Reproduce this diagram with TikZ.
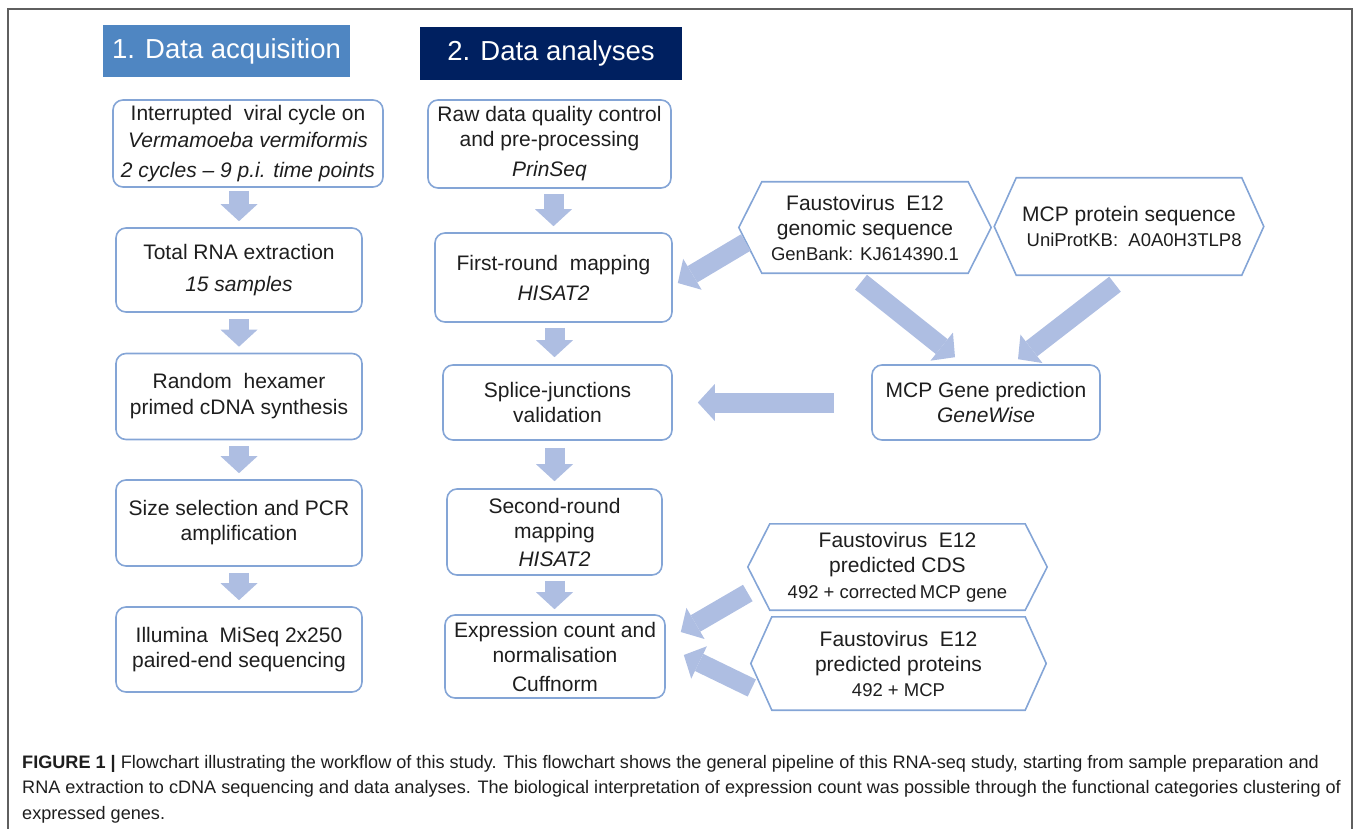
\documentclass[tikz,border=0pt]{standalone}
\usepackage{fontspec}
\setmainfont{Liberation Sans}
\usepackage{tikz}
\usetikzlibrary{arrows.meta, positioning}

\definecolor{boxline}{RGB}{132,165,214}
\definecolor{flowfill}{RGB}{174,190,226}
\definecolor{headone}{RGB}{79,134,194}
\definecolor{headtwo}{RGB}{0,32,96}
\definecolor{bodytext}{RGB}{30,30,30}
\definecolor{framegray}{RGB}{95,95,95}

\newcommand{\setfs}[2]{\fontsize{#1}{#2}\selectfont}
\newcommand{\hexframe}[2]{\draw[hexline] (#1.north west) -- (#1.north east) -- ([xshift=#2]#1.east) -- (#1.south east) -- (#1.south west) -- ([xshift=-#2]#1.west) -- cycle;}

\begin{document}
\begin{tikzpicture}[x=1pt,y=-1pt,node distance=126.5pt,on grid]
  \tikzstyle{stepbox}=[draw=boxline, line width=1.6pt, rounded corners=10pt, align=center, text=bodytext, inner sep=0pt, font=\setfs{21}{25}]
  \tikzstyle{hexa}=[align=center, text=bodytext, inner sep=0pt, font=\setfs{21}{25}]
  \tikzstyle{hexline}=[draw=boxline, line width=1.6pt, line join=miter]
  \tikzstyle{header}=[text=white, inner sep=0pt, font=\setfs{27.5}{32}]
  \tikzstyle{flow}=[draw=flowfill, line width=20pt, -{Triangle[width=37pt,length=17pt,line width=0pt]}]
  \tikzstyle{slant}=[draw=flowfill, line width=19pt, -{Triangle[width=36pt,length=17pt,line width=0pt]}]

  \useasboundingbox (0,0) rectangle (1357,829);
  \draw[framegray, line width=1.5pt] (8,835) -- (8,9) -- (1352,9) -- (1352,835);

  \node[header, fill=headone, minimum width=247pt, minimum height=52pt] (acq) at (226.5,51) {1. Data acquisition};
  \node[header, fill=headtwo, minimum width=262pt, minimum height=53pt] (ana) at (551,53.5) {2. Data analyses};

  \node[stepbox, minimum width=270pt, minimum height=87pt] (L1) at (248,143.5)
    {Interrupted\ \ viral cycle\ on\\[2pt]\textit{Vermamoeba vermiformis}\\[5pt]\textit{2 cycles – 9 p.i. time points}};
  \node[stepbox, minimum width=246pt, minimum height=84pt] (L2) [below=of L1, xshift=-9pt] {Total RNA extraction\\[7pt]\textit{15 samples}};
  \node[stepbox, minimum width=246pt, minimum height=86pt] (L3) [below=of L2] {Random\ \ hexamer\\[1pt]primed cDNA synthesis};
  \node[stepbox, minimum width=246pt, minimum height=86pt] (L4) [below=of L3] {Size selection\ and PCR\\amplification};
  \node[stepbox, minimum width=246pt, minimum height=85pt] (L5) [below=of L4] {Illumina\ \ MiSeq 2x250\\paired-end sequencing};

  \node[stepbox, minimum width=243pt, minimum height=88pt] (M1) at (549.5,144)
    {Raw data quality control\\and pre-processing\\[5pt]\textit{PrinSeq}};
  \node[stepbox, minimum width=237pt, minimum height=89pt] (M2) at (553.5,277.5) {First-round\ \ mapping\\[5pt]\textit{HISAT2}};
  \node[stepbox, minimum width=229pt, minimum height=75pt] (M3) at (557.5,402.5) {Splice-junctions\\validation};
  \node[stepbox, minimum width=215pt, minimum height=86pt] (M4) at (554.5,532) {Second-round\\mapping\\[3pt]\textit{HISAT2}};
  \node[stepbox, minimum width=220pt, minimum height=83pt] (M5) at (555,656.5) {Expression count\ and\\normalisation\\[4pt]Cuffnorm};

  \node[hexa, minimum width=206pt, minimum height=91pt] (fgen) at (865,227.5)
    {Faustovirus\ \ E12\\genomic sequence\\{\setfs{18.5}{22}GenBank: KJ614390.1}};
  \node[hexa, minimum width=222pt, minimum height=97pt] (mcp) at (1129,226.5)
    {MCP protein sequence\\{\setfs{18.5}{22}\ \ UniProtKB:\ \ A0A0H3TLP8}};
  \node[stepbox, minimum width=228pt, minimum height=75pt] (gwise) at (986,402.5) {MCP Gene prediction\\\textit{GeneWise}};
  \node[hexa, minimum width=255pt, minimum height=86pt] (cds) at (897.5,567)
    {Faustovirus\ \ E12\\predicted CDS\\[1pt]{\setfs{18.5}{22}492 + corrected\,MCP gene}};
  \node[hexa, minimum width=253pt, minimum height=93pt] (prot) at (898.5,663.5)
    {Faustovirus\ \ E12\\predicted proteins\\{\setfs{18.5}{22}492 + MCP}};
  \hexframe{fgen}{23pt}
  \hexframe{mcp}{22pt}
  \hexframe{cds}{22pt}
  \hexframe{prot}{21pt}

  \draw[flow, shorten <=3pt, shorten >=6pt] (L2.north |- L1.south) -- (L2.north);
  \draw[flow, shorten <=6pt, shorten >=6pt] (L2) -- (L3);
  \draw[flow, shorten <=6pt, shorten >=6pt] (L3) -- (L4);
  \draw[flow, shorten <=6pt, shorten >=6pt] (L4) -- (L5);

  \draw[flow, shorten <=5pt, shorten >=6pt] (M2.north |- M1.south) -- (M2.north);
  \draw[flow, shorten <=5pt, shorten >=7pt] (M2.south -| M4.north) -- (M3.north -| M4.north);
  \draw[flow, shorten <=7pt, shorten >=7pt] (M3.south -| M4.north) -- (M4.north);
  \draw[flow, shorten <=5pt, shorten >=5pt] (M4.south) -- (M4.south |- M5.north);

  \draw[slant] ([shift={(-16pt,-15pt)}]fgen.west) -- ([shift={(5pt,-5.5pt)}]M2.east);
  \draw[slant] ([shift={(-4pt,-9pt)}]fgen.south) -- ([shift={(-31pt,7pt)}]gwise.north);
  \draw[slant] ([shift={(-14pt,-9pt)}]mcp.south) -- ([shift={(32pt,5pt)}]gwise.north);
  \draw[flow, shorten <=37pt, shorten >=25pt] (gwise.west) -- (M3.east);
  \draw[slant] ([shift={(-22pt,-26pt)}]cds.west) -- ([shift={(15pt,24.5pt)}]M5.east);
  \draw[slant] ([shift={(-20pt,-24.5pt)}]prot.west) -- ([shift={(18pt,1.5pt)}]M5.east);

  \node[anchor=north west, align=left, inner sep=0pt, text=bodytext, font=\setfs{18.1}{25.5}] (cap) at (22,755)
    {\textbf{FIGURE 1 |} Flowchart illustrating the workflow of this study. This flowchart shows the general pipeline of this RNA-seq study, starting from sample preparation and\\
     RNA extraction to cDNA sequencing and data analyses. The biological interpretation of expression count was possible through the functional categories clustering of\\
     expressed genes.};
\end{tikzpicture}
\end{document}
